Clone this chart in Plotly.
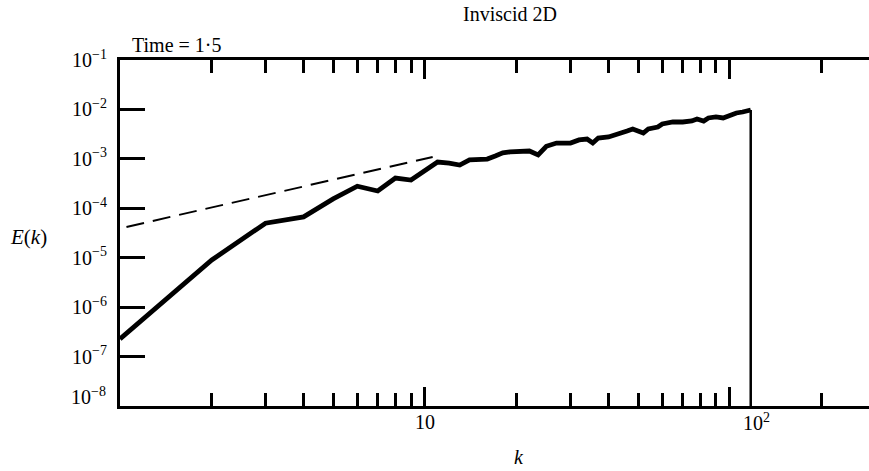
import math
import plotly.graph_objects as go

# Energy spectrum E(k), inviscid 2D run at t = 1.5
k = [1, 2, 3, 4, 5, 6, 7, 8, 9, 10, 11, 12, 13, 14, 15, 16, 17, 18, 19, 20,
     22, 23.5, 25, 27, 30, 32, 34, 35.5, 37, 40, 42, 44, 46, 48, 52, 54, 58,
     60, 65, 70, 75, 78, 82, 85, 90, 95, 100, 105, 110, 117]
E = [2.27e-7, 9.0e-6, 5.0e-5, 6.7e-5, 1.55e-4, 2.8e-4, 2.24e-4, 4.1e-4, 3.73e-4, 5.96e-4,
     8.6e-4, 8.2e-4, 7.5e-4, 9.5e-4, 9.9e-4, 9.9e-4, 1.14e-3, 1.32e-3, 1.38e-3, 1.38e-3,
     1.44e-3, 1.20e-3, 1.80e-3, 2.09e-3, 2.09e-3, 2.41e-3, 2.52e-3, 2.09e-3, 2.64e-3, 2.77e-3,
     3.04e-3, 3.18e-3, 3.66e-3, 4.02e-3, 3.33e-3, 4.02e-3, 4.41e-3,
     5.07e-3, 5.57e-3, 5.57e-3, 5.83e-3, 6.40e-3, 5.83e-3, 6.71e-3, 7.03e-3, 6.71e-3, 7.71e-3,
     8.47e-3, 8.87e-3, 9.74e-3]

# truncation wavenumber
k_cut = 117

# reference power law (dashed)
k_ref = [1.05, 10.6]
E_ref = [4.2e-5, 1.09e-3]

# axes
y_exponents = [-1, -2, -3, -4, -5, -6, -7, -8]
y_tick_text = ["10<sup>\u2212%d</sup>" % (-e) for e in y_exponents]
x_label_vals = [10, 100]
x_label_text = ["10", "10<sup>2</sup>"]
x_minor_vals = [2, 3, 4, 5, 6, 7, 8, 9, 20, 30, 40, 50, 60, 70, 80, 90, 200]
x_log_range = [0, 2.456]
y_log_range = [-8, -1]

FONT = "Liberation Serif"
FS = 20

fig = go.Figure()

fig.add_trace(go.Scatter(
    x=k_ref, y=E_ref, mode="lines",
    line=dict(color="black", width=2, dash="18px,9px"),
    showlegend=False, hoverinfo="skip"))

fig.add_trace(go.Scatter(
    x=k, y=E, mode="lines",
    line=dict(color="black", width=4.8),
    showlegend=False))

# vertical drop at the truncation wavenumber, down to the bottom of the axis
fig.add_trace(go.Scatter(
    x=[k_cut, k_cut], y=[E[-1], 10 ** (y_log_range[0] - 1)], mode="lines",
    line=dict(color="black", width=2.5),
    showlegend=False, hoverinfo="skip"))

# the lowest decade label sits a little above its tick
axis_text = y_tick_text[:-1] + [""]

fig.update_layout(
    width=869, height=471,
    margin=dict(l=120, r=0, t=60, b=65),
    paper_bgcolor="white", plot_bgcolor="white",
    font=dict(family=FONT, size=FS, color="black"),
    xaxis=dict(
        type="log", range=x_log_range,
        showgrid=False, zeroline=False,
        showline=True, linecolor="black", linewidth=3, mirror="ticks",
        ticks="inside", tickvals=x_label_vals, ticklen=19, tickwidth=2.5,
        tickcolor="black", showticklabels=False,
        minor=dict(tickvals=x_minor_vals, ticks="inside", ticklen=13,
                   tickwidth=2.5, tickcolor="black", showgrid=False),
    ),
    yaxis=dict(
        type="log", range=y_log_range,
        showgrid=False, zeroline=False,
        showline=True, linecolor="black", linewidth=3,
        ticks="inside", ticklen=25, tickwidth=2.5, tickcolor="black",
        tickvals=[10 ** e for e in y_exponents], ticktext=axis_text,
        ticklabelstandoff=6,
        tickfont=dict(family=FONT, size=FS),
    ),
    yaxis2=dict(
        type="log", range=y_log_range, overlaying="y", side="right",
        anchor="x", showgrid=False, zeroline=False, showline=False,
        ticks="inside", ticklen=19, tickwidth=2.5, tickcolor="black",
        tickvals=[10 ** e for e in y_exponents], showticklabels=False,
    ),
)

fig.add_annotation(x=0, y=y_exponents[-1], xref="paper", yref="y",
                   text=y_tick_text[-1], showarrow=False,
                   xanchor="right", yanchor="middle", xshift=-12, yshift=10,
                   font=dict(family=FONT, size=FS))

# x tick labels
for v, t, shift in zip(x_label_vals, x_label_text, [0, 27]):
    fig.add_annotation(x=math.log10(v), y=-0.046, xref="x", yref="paper",
                       text=t, showarrow=False, xshift=shift,
                       xanchor="center", yanchor="middle",
                       font=dict(family=FONT, size=FS))

fig.add_annotation(x=0.5207, y=1.133, xref="paper", yref="paper",
                   text="Inviscid 2D", showarrow=False,
                   xanchor="center", yanchor="middle",
                   font=dict(family=FONT, size=FS))
fig.add_annotation(x=0.0134, y=1.043, xref="paper", yref="paper",
                   text="Time = 1\u00b75", showarrow=False,
                   xanchor="left", yanchor="middle",
                   font=dict(family=FONT, size=FS))
fig.add_annotation(x=-0.1495, y=0.488, xref="paper", yref="paper",
                   text="<i>E</i>(<i>k</i>)", showarrow=False,
                   xanchor="left", yanchor="middle",
                   font=dict(family=FONT, size=FS + 1))
fig.add_annotation(x=0.5327, y=-0.1474, xref="paper", yref="paper",
                   text="<i>k</i>", showarrow=False,
                   xanchor="center", yanchor="middle",
                   font=dict(family=FONT, size=FS))

fig.write_html("out.html")
